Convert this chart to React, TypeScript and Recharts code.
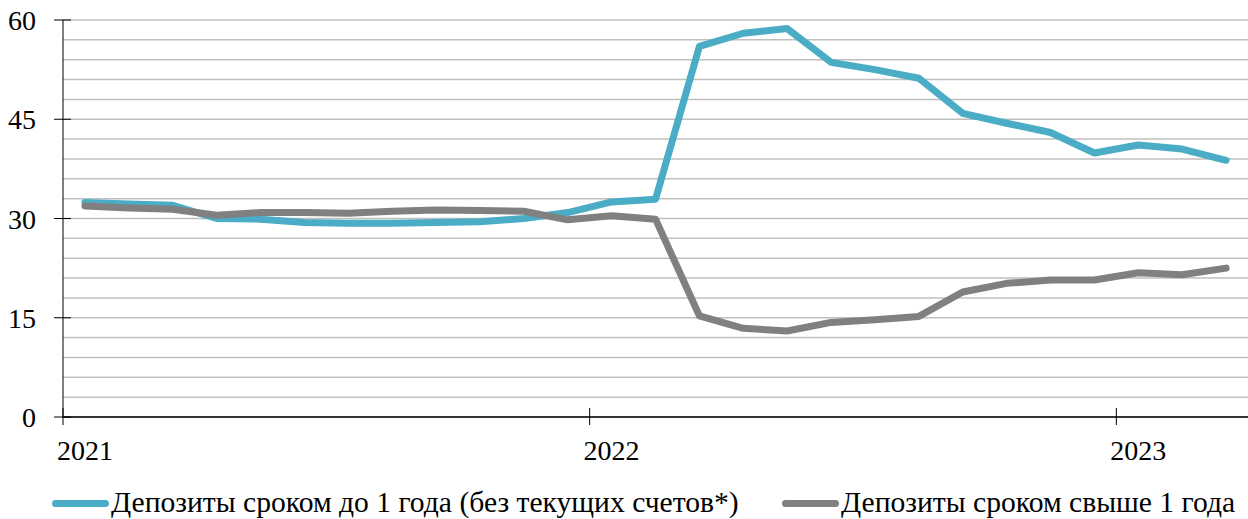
import React from "react";
import { LineChart, Line, XAxis, YAxis, CartesianGrid } from "recharts";

// Monthly points, Jan 2021 – Mar 2023
const months = [
  "2021-01", "2021-02", "2021-03", "2021-04", "2021-05", "2021-06",
  "2021-07", "2021-08", "2021-09", "2021-10", "2021-11", "2021-12",
  "2022-01", "2022-02", "2022-03", "2022-04", "2022-05", "2022-06",
  "2022-07", "2022-08", "2022-09", "2022-10", "2022-11", "2022-12",
  "2023-01", "2023-02", "2023-03",
];

const shortTerm = [
  32.4, 32.2, 32.0, 30.0, 29.9, 29.4, 29.3, 29.3, 29.4, 29.5, 30.0, 30.9,
  32.5, 32.9, 56.0, 58.0, 58.7, 53.6, 52.5, 51.2, 45.9, 44.4, 43.0, 39.9,
  41.1, 40.5, 38.8,
];

const longTerm = [
  31.9, 31.6, 31.4, 30.5, 30.9, 30.9, 30.8, 31.1, 31.3, 31.2, 31.1, 29.8,
  30.4, 29.9, 15.3, 13.4, 13.0, 14.3, 14.7, 15.2, 18.9, 20.2, 20.7, 20.7,
  21.8, 21.5, 22.5,
];

const yTicks = [0, 3, 6, 9, 12, 15, 18, 21, 24, 27, 30, 33, 36, 39, 42, 45, 48, 51, 54, 57, 60];
const yLabelTicks = [0, 15, 30, 45, 60];

const seriesNames = [
  "Депозиты сроком до 1 года (без текущих счетов*)",
  "Депозиты сроком свыше 1 года",
];

const BLUE = "#4bacc6";
const GREY = "#808080";
const FONT = "Liberation Serif";

const WIDTH = 1248;
const HEIGHT = 519;
const Y_AXIS_W = 63;
const BAND = (WIDTH - Y_AXIS_W) / months.length;

const data = months.map((m, i) => ({
  month: m,
  short: shortTerm[i],
  long: longTerm[i],
}));

function YTick(props: any) {
  const { x, y, payload } = props;
  if (!yLabelTicks.includes(payload.value)) return null;
  return (
    <g>
      <line x1={x - 9} x2={x + 8} y1={y} y2={y} stroke="#000" strokeWidth={1} />
      <text x={x - 27} y={y + 10} textAnchor="end" style={{ fontSize: 28, fontFamily: FONT }} fill="#000">
        {payload.value}
      </text>
    </g>
  );
}

function XTick(props: any) {
  const { x, y, payload } = props;
  const value: string = payload.value;
  if (!value.endsWith("-01")) return null;
  const lx = x - BAND / 2;
  return (
    <g>
      <line x1={lx} x2={lx} y1={y - 9} y2={y + 8} stroke="#000" strokeWidth={1} />
      <text x={x} y={y + 43} textAnchor="middle" style={{ fontSize: 28, fontFamily: FONT }} fill="#000">
        {value.slice(0, 4)}
      </text>
    </g>
  );
}

function LegendItem({ color, label, left }: { color: string; label: string; left: number }) {
  return (
    <>
      <div
        style={{ position: "absolute", left, top: 499.5, width: 57, height: 7, borderRadius: 4, background: color }}
      />
      <span
        style={{
          position: "absolute",
          left: left + 59,
          top: 488,
          fontFamily: FONT,
          fontSize: 29.6,
          lineHeight: "29.6px",
          color: "#000",
          whiteSpace: "nowrap",
        }}
      >
        {label}
      </span>
    </>
  );
}

export default function App() {
  return (
    <div style={{ position: "absolute", left: 0, top: 0, width: WIDTH, height: HEIGHT, background: "#fff" }}>
      <LineChart width={WIDTH} height={HEIGHT} data={data} margin={{ top: 20, right: 0, bottom: 0, left: 0 }}>
        <CartesianGrid vertical={false} stroke="#bfbfbf" strokeWidth={1.5} />
        <XAxis
          dataKey="month"
          scale="band"
          height={102}
          interval={0}
          tickSize={0}
          tickMargin={0}
          tickLine={false}
          axisLine={{ stroke: "#000", strokeWidth: 1.3 }}
          tick={<XTick />}
        />
        <YAxis
          width={Y_AXIS_W}
          domain={[0, 60]}
          ticks={yTicks}
          interval={0}
          tickSize={0}
          tickMargin={0}
          tickLine={false}
          axisLine={{ stroke: "#000", strokeWidth: 1 }}
          tick={<YTick />}
        />
        <Line
          dataKey="short"
          stroke={BLUE}
          strokeWidth={7}
          dot={false}
          strokeLinejoin="round"
          strokeLinecap="round"
          isAnimationActive={false}
        />
        <Line
          dataKey="long"
          stroke={GREY}
          strokeWidth={7}
          dot={false}
          strokeLinejoin="round"
          strokeLinecap="round"
          isAnimationActive={false}
        />
      </LineChart>
      <LegendItem color={BLUE} label={seriesNames[0]} left={52} />
      <LegendItem color={GREY} label={seriesNames[1]} left={782} />
    </div>
  );
}
